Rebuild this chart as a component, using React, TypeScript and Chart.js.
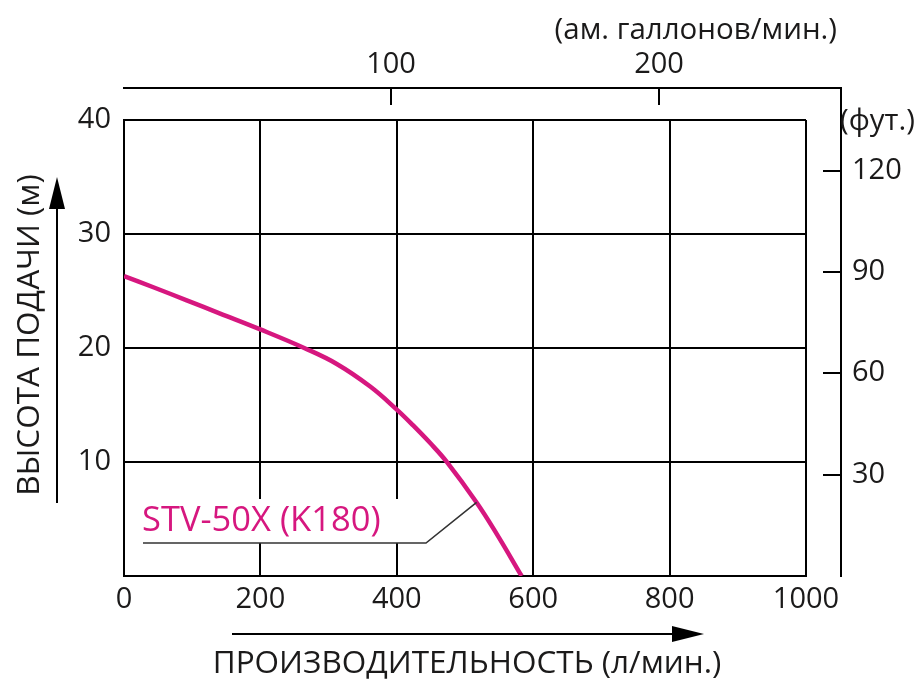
import React, { useEffect, useRef } from "react";
import { Chart, registerables } from "chart.js";

Chart.register(...registerables);

// ---- data ----
const FLOW_LPM = [0, 43, 92, 141, 199, 265, 312, 361, 400, 424, 449, 473, 517, 546, 583];
const HEAD_M = [26.3, 25.33, 24.18, 23.02, 21.65, 19.98, 18.6, 16.62, 14.6, 13.21, 11.66, 10.03, 6.45, 3.74, 0];
const SERIES_NAME = "STV-50X (K180)";

const X_TICKS = [0, 200, 400, 600, 800, 1000];
const Y_TICKS = [0, 10, 20, 30, 40];
const GAL_TICKS = [100, 200];
const FT_TICKS = [30, 60, 90, 120];

// unit conversions as drawn in the reference
const L_PER_GAL = 3.92;
const M_PER_FT = 40 / 135;

const X_TITLE = "ПРОИЗВОДИТЕЛЬНОСТЬ (л/мин.)";
const Y_TITLE = "ВЫСОТА ПОДАЧИ (м)";
const GAL_UNIT = "(ам. галлонов/мин.)";
const FT_UNIT = "(фут.)";

// label anchor on the curve (data units)
const LABEL_ANCHOR = { x: 517, y: 6.45 };

const PINK = "#d6177f";
const INK = "#1b1a1a";
const FONT = "'Open Sans', 'Noto Sans', sans-serif";

const decorPlugin = {
  id: "decor",
  beforeDatasetsDraw(chart: any) {
    const { ctx, chartArea: a } = chart;
    ctx.save();
    ctx.fillStyle = "#fff";
    ctx.fillRect(a.left + 2, 499, 316, 44);
    ctx.restore();
  },
  afterDatasetsDraw(chart: any) {
    const { ctx, scales } = chart;
    const { x, y } = scales;
    ctx.save();
    // series label
    ctx.fillStyle = PINK;
    ctx.font = `34.5px ${FONT}`;
    ctx.textAlign = "left";
    ctx.textBaseline = "middle";
    ctx.fillText(SERIES_NAME, 142, 521);
    // leader line
    ctx.strokeStyle = "#333";
    ctx.lineWidth = 1.6;
    ctx.beginPath();
    ctx.moveTo(143, 543);
    ctx.lineTo(426, 543);
    ctx.lineTo(x.getPixelForValue(LABEL_ANCHOR.x), y.getPixelForValue(LABEL_ANCHOR.y));
    ctx.stroke();
    ctx.restore();
  },
  afterDraw(chart: any) {
    const { ctx, chartArea: a, scales } = chart;
    const { x, y } = scales;
    ctx.save();
    ctx.strokeStyle = "#000";
    ctx.fillStyle = INK;
    ctx.lineWidth = 2;

    const topY = 88;
    const rightX = 841;
    // top (gallons) axis + right (feet) axis frame
    ctx.beginPath();
    ctx.moveTo(a.left - 1, topY);
    ctx.lineTo(rightX, topY);
    ctx.lineTo(rightX, a.bottom + 1);
    ctx.stroke();

    ctx.font = `29px ${FONT}`;
    ctx.textAlign = "center";
    ctx.textBaseline = "middle";
    GAL_TICKS.forEach((g) => {
      const px = Math.round(x.getPixelForValue(g * L_PER_GAL));
      ctx.beginPath();
      ctx.moveTo(px, topY);
      ctx.lineTo(px, topY + 17);
      ctx.stroke();
      ctx.fillText(String(g), px, 65);
    });
    ctx.textAlign = "left";
    FT_TICKS.forEach((f) => {
      const py = Math.round(y.getPixelForValue(f * M_PER_FT));
      ctx.beginPath();
      ctx.moveTo(rightX - 18, py);
      ctx.lineTo(rightX, py);
      ctx.stroke();
      ctx.fillText(String(f), 852, py);
    });

    // unit labels
    ctx.font = `29.5px ${FONT}`;
    ctx.textAlign = "right";
    ctx.fillText(GAL_UNIT, 837, 31);
    ctx.textAlign = "left";
    ctx.fillText(FT_UNIT, 840, 122);

    // x-axis arrow and title
    ctx.beginPath();
    ctx.moveTo(232, 634);
    ctx.lineTo(676, 634);
    ctx.stroke();
    ctx.fillStyle = "#000";
    ctx.beginPath();
    ctx.moveTo(704, 634);
    ctx.lineTo(672, 626);
    ctx.lineTo(672, 642);
    ctx.closePath();
    ctx.fill();
    ctx.fillStyle = INK;
    ctx.font = `31.5px ${FONT}`;
    ctx.textAlign = "center";
    ctx.fillText(X_TITLE, 467, 664);

    // y-axis arrow and title
    ctx.beginPath();
    ctx.moveTo(57, 503);
    ctx.lineTo(57, 206);
    ctx.stroke();
    ctx.fillStyle = "#000";
    ctx.beginPath();
    ctx.moveTo(57, 177);
    ctx.lineTo(49, 209);
    ctx.lineTo(65, 209);
    ctx.closePath();
    ctx.fill();
    ctx.fillStyle = INK;
    ctx.translate(30, 335);
    ctx.rotate(-Math.PI / 2);
    ctx.fillText(Y_TITLE, 0, 0);
    ctx.restore();
  },
};

export default function App() {
  const ref = useRef<HTMLCanvasElement | null>(null);
  useEffect(() => {
    if (!ref.current) return;
    const chart = new Chart(ref.current, {
      type: "line",
      data: {
        datasets: [
          {
            label: SERIES_NAME,
            data: FLOW_LPM.map((f, i) => ({ x: f, y: HEAD_M[i] })),
            borderColor: PINK,
            borderWidth: 4.5,
            pointRadius: 0,
            tension: 0.4,
            fill: false,
          },
        ],
      },
      options: {
        responsive: false,
        animation: false,
        devicePixelRatio: 1,
        layout: { padding: { left: 8, top: 120, right: 111, bottom: 56 } },
        plugins: { legend: { display: false }, tooltip: { enabled: false } },
        scales: {
          x: {
            type: "linear",
            min: 0,
            max: 1000,
            afterBuildTicks: (s: any) => {
              s.ticks = X_TICKS.map((v) => ({ value: v }));
            },
            afterFit: (s: any) => {
              s.height = 50;
            },
            ticks: {
              color: INK,
              font: { family: FONT, size: 29 },
              padding: 6,
              callback: (v: any) => String(v),
            },
            grid: { color: "#000", lineWidth: 2, drawTicks: false },
            border: { color: "#000", width: 2 },
          },
          y: {
            type: "linear",
            min: 0,
            max: 40,
            afterBuildTicks: (s: any) => {
              s.ticks = Y_TICKS.map((v) => ({ value: v }));
            },
            afterFit: (s: any) => {
              s.width = 116;
            },
            ticks: {
              color: INK,
              font: { family: FONT, size: 29 },
              padding: 13,
              callback: (v: any) => (v === 0 ? "" : String(v)),
            },
            grid: { color: "#000", lineWidth: 2, drawTicks: false },
            border: { color: "#000", width: 2 },
          },
        },
      },
      plugins: [decorPlugin],
    });
    return () => chart.destroy();
  }, []);
  return (
    <div style={{ position: "absolute", left: 0, top: 0, width: 917, height: 682, background: "#fff" }}>
      <canvas ref={ref} width={917} height={682} />
    </div>
  );
}
